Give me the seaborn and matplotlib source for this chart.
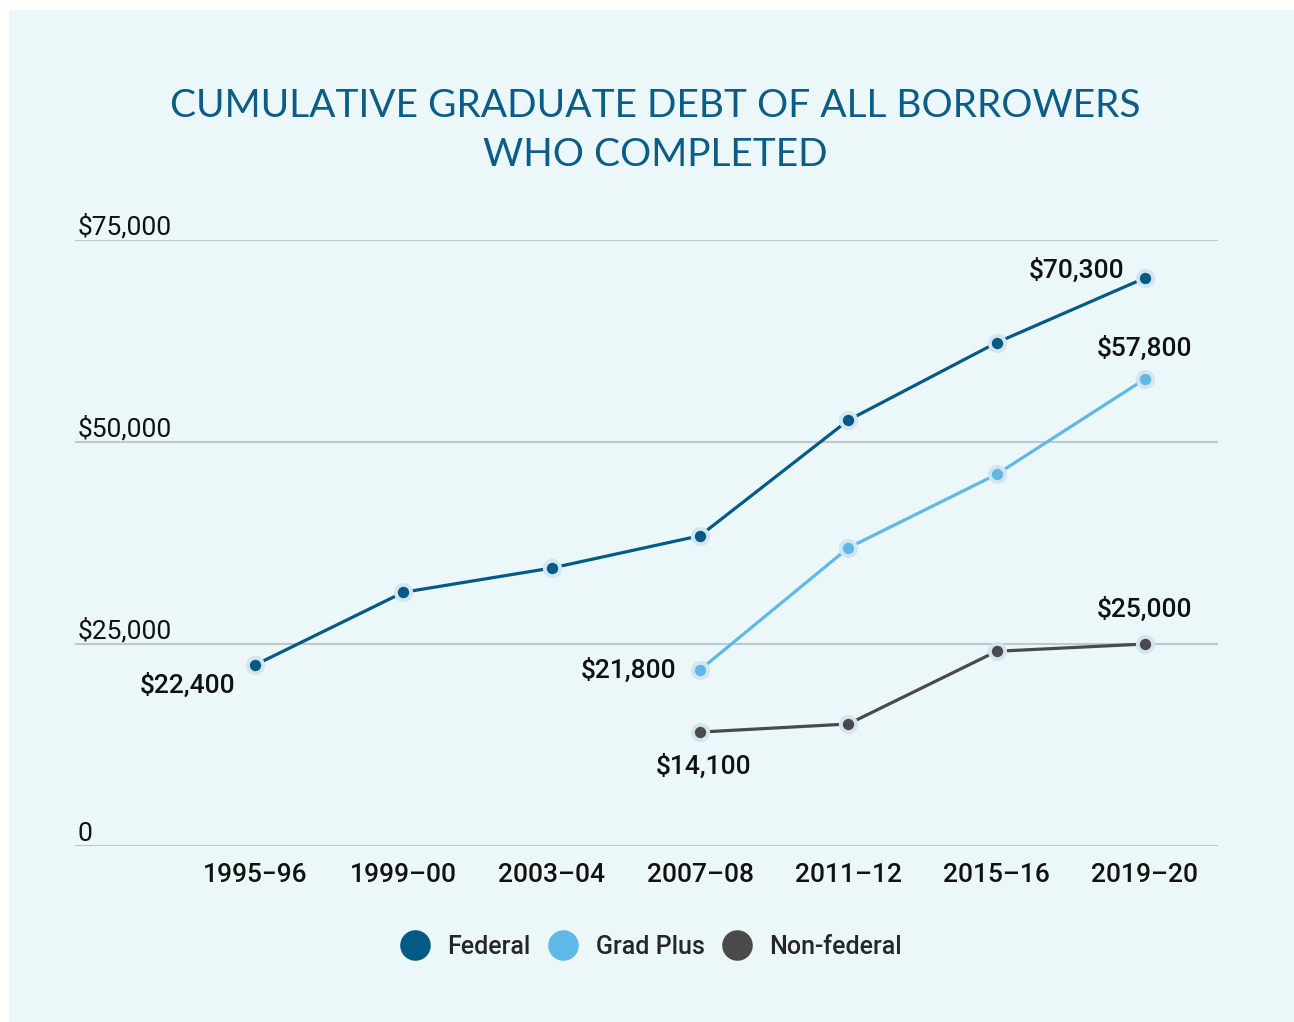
import matplotlib
matplotlib.use("Agg")
import matplotlib.pyplot as plt
import seaborn as sns
import pandas as pd
import numpy as np
from matplotlib.lines import Line2D

periods = ["1995\u201296", "1999\u201300", "2003\u201304", "2007\u201308", "2011\u201312", "2015\u201316", "2019\u201320"]
federal = [22400, 31400, 34400, 38400, 52700, 62300, 70300]
grad_plus = [None, None, None, 21800, 36900, 46000, 57800]
non_federal = [None, None, None, 14100, 15100, 24100, 25000]
series_names = ["Federal", "Grad Plus", "Non-federal"]
colors = ["#025A85", "#60B8E6", "#4A4A4A"]
y_ticks = [0, 25000, 50000, 75000]
y_tick_labels = ["0", "$25,000", "$50,000", "$75,000"]

rows = []
for name, vals in zip(series_names, [federal, grad_plus, non_federal]):
    for i, v in enumerate(vals):
        if v is not None:
            rows.append({"x": i, "value": v, "series": name})
df = pd.DataFrame(rows)

sns.set_theme(style="white")
plt.rcParams["font.family"] = ["Roboto", "DejaVu Sans"]

W, H = 1294, 1022
fig = plt.figure(figsize=(W / 100, H / 100), dpi=100)
fig.patch.set_facecolor("white")
bg = plt.Rectangle((9 / W, 0), 1 - 9 / W, 1 - 10 / H, transform=fig.transFigure,
                   facecolor="#EBF7F9", edgecolor="none", zorder=-10)
fig.patches.append(bg)

ax = fig.add_axes([75 / W, (H - 846) / H, (1218 - 75) / W, (846 - 240) / H])
ax.set_facecolor("none")
ax.set_zorder(5)

x0 = 255; step = (1145 - 255) / 6
ax.set_xlim((75 - x0) / step, (1218 - x0) / step)
ax.set_ylim(0, 75000)

for t in y_ticks:
    ax.axhline(t, color="#BFC8CB", lw=1.5, zorder=1)

sns.lineplot(data=df, x="x", y="value", hue="series", hue_order=series_names,
             palette=colors, ax=ax, marker="o", markersize=11, linewidth=2.3,
             markeredgecolor="#D3E6F0", markeredgewidth=2.8, legend=False,
             zorder=3, clip_on=False)

for s in ax.spines.values():
    s.set_visible(False)

ax.set_xticks(range(len(periods)))
ax.set_xticklabels(periods, fontsize=19, fontweight="medium", color="#111111")
ax.tick_params(axis="x", length=0, pad=12)
ax.set_yticks([])
ax.set_xlabel("")
ax.set_ylabel("")

for t, lab in zip(y_ticks, y_tick_labels):
    ax.text(0.002, t, lab, transform=ax.get_yaxis_transform(), ha="left", va="bottom",
            fontsize=19, color="#111111")

# data labels
ann = [
    (6, federal[6], "$70,300", (-68, 8)),
    (6, grad_plus[6], "$57,800", (0, 31)),
    (0, federal[0], "$22,400", (-67, -20)),
    (3, grad_plus[3], "$21,800", (-71, 0)),
    (3, non_federal[3], "$14,100", (4, -34)),
    (6, non_federal[6], "$25,000", (0, 35)),
]
for x, y, lab, off in ann:
    ax.annotate(lab, (x, y), xytext=off, textcoords="offset pixels", ha="center", va="center",
                fontsize=19, color="#111111", fontweight="medium")

fig.text(655 / W, 1 - 106 / H, "CUMULATIVE GRADUATE DEBT OF ALL BORROWERS", ha="center", va="center",
         fontsize=28, color="#0B5C86", family=["Lato", "DejaVu Sans"])
fig.text(655 / W, 1 - 155 / H, "WHO COMPLETED", ha="center", va="center",
         fontsize=28, color="#0B5C86", family=["Lato", "DejaVu Sans"])

handles = [Line2D([], [], ls="none", marker="o", markersize=22, color=c, markeredgecolor="none")
           for c in colors]
fig.legend(handles, series_names, loc="center", bbox_to_anchor=(646 / W, 1 - 947 / H), ncol=3,
           frameon=False, handletextpad=0.3, columnspacing=0.3,
           prop={"weight": "medium", "size": 18})

fig.savefig("out.png", dpi=100, facecolor=fig.get_facecolor())
